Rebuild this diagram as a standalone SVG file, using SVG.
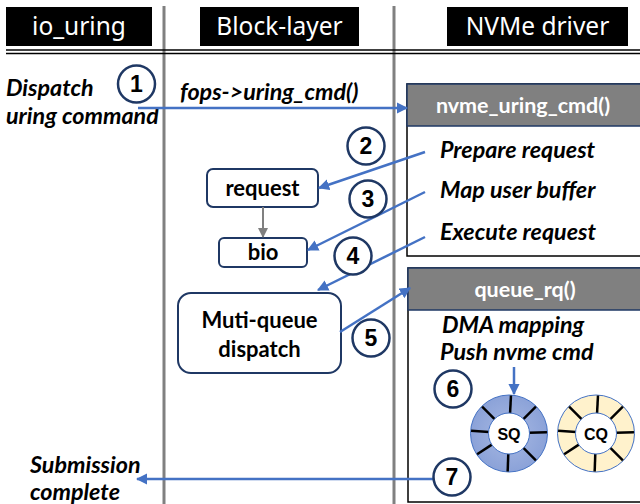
<svg xmlns="http://www.w3.org/2000/svg" width="640" height="504" viewBox="0 0 640 504">
<style>
.hdr{fill:#000}
.hdrt{fill:#fff;font-family:"Noto Sans",sans-serif;font-size:24.5px;text-anchor:middle}
.lbl{font-family:Lato,"Liberation Sans",sans-serif;font-weight:bold;font-style:italic;font-size:23.3px;fill:#000}
.bt{font-family:Lato,"Liberation Sans",sans-serif;font-weight:bold;font-size:22px;fill:#000;text-anchor:middle}
.wt{font-family:Lato,"Liberation Sans",sans-serif;font-weight:bold;font-size:21.5px;fill:#fff;text-anchor:middle}
.node{fill:#fff;stroke:#1F3864;stroke-width:2}
.num{fill:#fff;stroke:#1F3864;stroke-width:2.5}
.numt{font-family:"Liberation Sans",Arial,sans-serif;font-weight:bold;font-size:23px;fill:#000;text-anchor:middle}
.arr{stroke:#4472C4;stroke-width:2.5;fill:none;marker-end:url(#ah)}
.spk{stroke:#000;stroke-width:2.5}
.qt{font-family:"Liberation Sans",Arial,sans-serif;font-weight:bold;font-size:16px;fill:#000;text-anchor:middle}
</style>
<defs>
<marker id="ah" viewBox="0 0 10 10" refX="9" refY="5" markerWidth="4.5" markerHeight="4.5" orient="auto" markerUnits="strokeWidth">
<path d="M0,0 L10,5 L0,10 z" fill="#4472C4"/>
</marker>
<marker id="ahg" viewBox="0 0 10 10" refX="9" refY="5" markerWidth="5" markerHeight="5" orient="auto" markerUnits="strokeWidth">
<path d="M0,0 L10,5 L0,10 z" fill="#808080"/>
</marker>
<radialGradient id="sqg" cx="50%" cy="50%" r="50%">
<stop offset="0" stop-color="#A8B9E3"/>
<stop offset="1" stop-color="#8BA2D8"/>
</radialGradient>
</defs>
<rect width="640" height="504" fill="#fff"/>
<g id="lanes">
<line x1="164" y1="6" x2="164" y2="504" stroke="#808080" stroke-width="3"/>
<line x1="394" y1="6" x2="394" y2="504" stroke="#808080" stroke-width="3"/>
<line x1="6" y1="50" x2="640" y2="50" stroke="#000" stroke-width="1.5"/>
<line x1="6" y1="53.5" x2="640" y2="53.5" stroke="#000" stroke-width="1.5"/>
<rect class="hdr" x="6" y="7" width="146" height="39"/>
<text class="hdrt" x="79" y="35">io_uring</text>
<rect class="hdr" x="200" y="7" width="159" height="39"/>
<text class="hdrt" x="279.5" y="35">Block-layer</text>
<rect class="hdr" x="447" y="7" width="181" height="39"/>
<text class="hdrt" x="537.5" y="35">NVMe driver</text>
</g>
<g id="labels">
<text class="lbl" x="6" y="96">Dispatch</text>
<text class="lbl" x="6" y="124">uring command</text>
<text class="lbl" x="180" y="100">fops-&gt;uring_cmd()</text>
<text class="lbl" x="30" y="473">Submission</text>
<text class="lbl" x="30" y="500">complete</text>
</g>
<g id="nvme_uring_cmd">
<rect x="407" y="84" width="236" height="172" fill="#fff" stroke="#000" stroke-width="1.5"/>
<rect x="407" y="84" width="236" height="42" fill="#808080" stroke="#1F3864" stroke-width="1.5"/>
<text class="wt" x="523" y="113">nvme_uring_cmd()</text>
<text class="lbl" x="440" y="158">Prepare request</text>
<text class="lbl" x="440" y="198">Map user buffer</text>
<text class="lbl" x="440" y="240">Execute request</text>
</g>
<g id="queue_rq">
<rect x="408" y="268" width="235" height="234" fill="#fff" stroke="#000" stroke-width="1.5"/>
<rect x="408" y="268" width="235" height="42" fill="#808080" stroke="#1F3864" stroke-width="1.5"/>
<text class="wt" x="525" y="297">queue_rq()</text>
<text class="lbl" x="442" y="333">DMA mapping</text>
<text class="lbl" x="440" y="360">Push nvme cmd</text>
</g>
<g id="request">
<rect class="node" x="207" y="169" width="111" height="38" rx="6"/>
<text class="bt" x="262.5" y="196">request</text>
</g>
<g id="bio">
<rect class="node" x="219" y="238" width="88" height="29" rx="5"/>
<text class="bt" x="263" y="260">bio</text>
</g>
<g id="dispatch">
<rect class="node" x="178" y="293" width="163" height="80" rx="13"/>
<text class="bt" x="259.5" y="328">Muti-queue</text>
<text class="bt" x="259.5" y="357">dispatch</text>
</g>
<g id="SQ">
<circle cx="509" cy="433.5" r="38.5" fill="url(#sqg)" stroke="#4472C4" stroke-width="1"/>
<g class="spk" transform="translate(509,433.5)">
<line x1="0" y1="-20" x2="0" y2="-38" transform="rotate(3)"/>
<line x1="0" y1="-20" x2="0" y2="-38" transform="rotate(45)"/>
<line x1="0" y1="-20" x2="0" y2="-38" transform="rotate(88)"/>
<line x1="0" y1="-20" x2="0" y2="-38" transform="rotate(135)"/>
<line x1="0" y1="-20" x2="0" y2="-38" transform="rotate(182)"/>
<line x1="0" y1="-20" x2="0" y2="-38" transform="rotate(237)"/>
<line x1="0" y1="-20" x2="0" y2="-38" transform="rotate(274)"/>
<line x1="0" y1="-20" x2="0" y2="-38" transform="rotate(315)"/>
</g>
<circle cx="509" cy="433.5" r="20.5" fill="#fff" stroke="#4472C4" stroke-width="1"/>
<text class="qt" x="509" y="439.5">SQ</text>
</g>
<g id="CQ">
<circle cx="596" cy="433.5" r="38.5" fill="#FFF2CC" stroke="#4472C4" stroke-width="1"/>
<g class="spk" transform="translate(596,433.5)">
<line x1="0" y1="-20" x2="0" y2="-38" transform="rotate(3)"/>
<line x1="0" y1="-20" x2="0" y2="-38" transform="rotate(45)"/>
<line x1="0" y1="-20" x2="0" y2="-38" transform="rotate(88)"/>
<line x1="0" y1="-20" x2="0" y2="-38" transform="rotate(135)"/>
<line x1="0" y1="-20" x2="0" y2="-38" transform="rotate(182)"/>
<line x1="0" y1="-20" x2="0" y2="-38" transform="rotate(237)"/>
<line x1="0" y1="-20" x2="0" y2="-38" transform="rotate(274)"/>
<line x1="0" y1="-20" x2="0" y2="-38" transform="rotate(315)"/>
</g>
<circle cx="596" cy="433.5" r="20.5" fill="#fff" stroke="#4472C4" stroke-width="1"/>
<text class="qt" x="596" y="439.5">CQ</text>
</g>
<g id="connectors">
<line class="arr" x1="138" y1="108" x2="407" y2="108"/>
<line class="arr" x1="425" y1="152" x2="319" y2="188"/>
<line class="arr" x1="425" y1="192" x2="308" y2="250"/>
<line class="arr" x1="425" y1="237" x2="318" y2="290"/>
<line class="arr" x1="340" y1="332" x2="410" y2="288"/>
<line class="arr" x1="514" y1="367" x2="514" y2="394"/>
<line class="arr" x1="433" y1="479" x2="137" y2="479"/>
<line x1="263" y1="207" x2="263" y2="237" stroke="#808080" stroke-width="2" marker-end="url(#ahg)"/>
</g>
<g id="steps">
<circle class="num" cx="136.5" cy="84" r="18.5"/><text class="numt" x="136.5" y="92">1</text>
<circle class="num" cx="366" cy="146" r="18.5"/><text class="numt" x="366" y="154">2</text>
<circle class="num" cx="368" cy="199" r="18.5"/><text class="numt" x="368" y="207">3</text>
<circle class="num" cx="353" cy="256" r="18.5"/><text class="numt" x="353" y="264">4</text>
<circle class="num" cx="371" cy="338" r="18.5"/><text class="numt" x="371" y="346">5</text>
<circle class="num" cx="453" cy="389" r="18.5"/><text class="numt" x="453" y="397">6</text>
<circle class="num" cx="452" cy="477" r="18.5"/><text class="numt" x="452" y="485">7</text>
</g>
</svg>
